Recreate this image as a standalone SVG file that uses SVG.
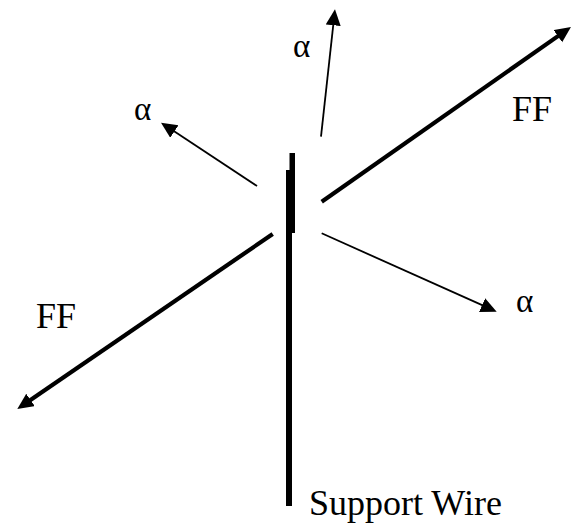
<svg xmlns="http://www.w3.org/2000/svg" width="572" height="532" viewBox="0 0 572 532">
<style>
text{font-family:"Liberation Serif","Times New Roman",serif;font-size:36px;fill:#000}
text.a{font-size:33px}
.thin{stroke:#000;stroke-width:1.8;fill:none}
.thick{stroke:#000;stroke-width:4.2;fill:none}
</style>
<defs>
<marker id="ah" markerUnits="userSpaceOnUse" markerWidth="18" markerHeight="18" viewBox="0 0 18 18" refX="8" refY="7.5" orient="auto">
<path d="M0,0 L16,7.5 L0,15 z" fill="#000"/>
</marker>
</defs>
<rect width="572" height="532" fill="#fff"/>
<g id="wire">
<rect x="286" y="170" width="6" height="336" fill="#000"/>
<rect x="289.5" y="153" width="5.5" height="80" fill="#000"/>
</g>
<g id="connectors">
<line class="thin" x1="257" y1="186" x2="167.7" y2="127.1" marker-end="url(#ah)"/>
<line class="thin" x1="321" y1="136.7" x2="334.1" y2="17.3" marker-end="url(#ah)"/>
<line class="thick" x1="321.7" y1="201.7" x2="564.4" y2="31.6" marker-end="url(#ah)"/>
<line class="thick" x1="272.7" y1="234" x2="23.9" y2="404.5" marker-end="url(#ah)"/>
<line class="thin" x1="321.7" y1="233.3" x2="489.4" y2="308.4" marker-end="url(#ah)"/>
</g>
<g id="labels">
<text class="a" x="134" y="120">α</text>
<text class="a" x="293" y="56.5">α</text>
<text class="a" x="516" y="311.5">α</text>
<text x="512" y="121">FF</text>
<text x="36" y="328">FF</text>
<text x="309" y="515">Support Wire</text>
</g>
</svg>
